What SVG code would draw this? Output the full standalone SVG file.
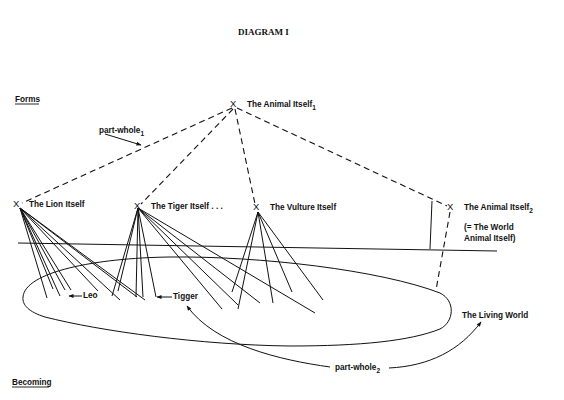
<svg xmlns="http://www.w3.org/2000/svg" width="564" height="400" viewBox="0 0 564 400">
<style>
.t{font-family:"Liberation Sans",Arial,sans-serif;font-weight:bold;font-size:8.2px;fill:#111}
.s{font-size:6.5px}
.x{font-family:"Liberation Sans",Arial,sans-serif;font-size:9.5px;fill:#111}
.d{stroke:#111;stroke-width:1.1;stroke-dasharray:6,4;fill:none}
.l{stroke:#111;stroke-width:1;fill:none}
</style>
<defs>
<marker id="ah" viewBox="0 0 10 10" refX="9" refY="5" markerWidth="6" markerHeight="5" orient="auto" markerUnits="userSpaceOnUse">
<path d="M0,1 L10,5 L0,9 Z" fill="#111"/>
</marker>
</defs>
<rect width="564" height="400" fill="#fff"/>
<text x="238" y="35" style="font-family:'Liberation Serif','Times New Roman',serif;font-weight:bold;font-size:9px;fill:#111">DIAGRAM I</text>
<g id="labels">
<text class="t" x="15" y="102">Forms</text>
<line x1="15" y1="104" x2="39" y2="104" stroke="#111" stroke-width="0.9"/>
<text class="t" x="12" y="385">Becoming</text>
<line x1="12" y1="387" x2="49" y2="387" stroke="#111" stroke-width="0.9"/>
</g>
<g id="connectors">
<path class="d" d="M232,108 L22,203"/>
<path class="d" d="M233,109 L141,204"/>
<path class="d" d="M235,109 L255,204"/>
<path class="d" d="M237,108 L447,206"/>
<path class="d" d="M450,212 L436,290"/>
<path class="l" d="M432,201 L430,249"/>
<path class="l" stroke-width="1.3" d="M18,243 L497,251"/>
<g class="l">
<path d="M20,208 L47,298 M20,208 L53,289 M20,208 L60,296 M20,208 L65,290 M20,208 L71,290 M20,208 L98,291 M20,208 L120,300 M20,208 L137,297 M20,208 L145,300"/>
<path d="M138,208 L112,296 M138,208 L118,291 M138,208 L136,297 M138,208 L143,297 M138,208 L156,297 M138,208 L222,309 M138,208 L238,305 M138,208 L260,303 M138,208 L315,313"/>
<path d="M258,212 L232,292 M258,212 L238,309 M258,212 L273,303 M258,212 L292,292 M258,212 L323,300"/>
</g>
<path class="l" d="M23,297 C25,272 95,258 170,257 C260,256 380,270 440,293 C456,301 454,322 440,329 C410,341 360,346 290,346 C200,345 100,331 45,317 C29,312 22,305 23,297 Z"/>
<path class="l" marker-end="url(#ah)" d="M105,134 L141,145"/>
<path class="l" marker-end="url(#ah)" d="M82,296 L69,296"/>
<path class="l" marker-end="url(#ah)" d="M172,297 L157,297"/>
<path class="l" marker-end="url(#ah)" d="M330,367 C280,360 215,345 187,306"/>
<path class="l" marker-end="url(#ah)" d="M389,368 C430,366 460,350 481,322"/>
</g>
<g id="animal1"><text class="x" x="230" y="107">X</text><text class="t" x="247" y="107">The Animal Itself<tspan class="s" dy="3">1</tspan></text></g>
<g id="lion"><text class="x" x="13" y="207">X</text><text class="t" x="29" y="207">The Lion Itself</text></g>
<g id="tiger"><text class="x" x="134" y="209">X</text><text class="t" x="151" y="209">The Tiger Itself . . .</text></g>
<g id="vulture"><text class="x" x="253" y="210">X</text><text class="t" x="270" y="210">The Vulture Itself</text></g>
<g id="animal2"><text class="x" x="447" y="210">X</text><text class="t" x="464" y="210">The Animal Itself<tspan class="s" dy="3">2</tspan></text>
<text class="t" x="464" y="230">(= The World</text><text class="t" x="464" y="241">Animal Itself)</text></g>
<g id="leo"><text class="t" x="83" y="298">Leo</text></g>
<g id="tigger"><text class="t" x="173" y="299">Tigger</text></g>
<g id="living"><text class="t" x="462" y="318">The Living World</text></g>
<g id="pw1"><text class="t" x="99" y="133">part-whole<tspan class="s" dy="3">1</tspan></text></g>
<g id="pw2"><text class="t" x="335" y="370">part-whole<tspan class="s" dy="3">2</tspan></text></g>
</svg>
